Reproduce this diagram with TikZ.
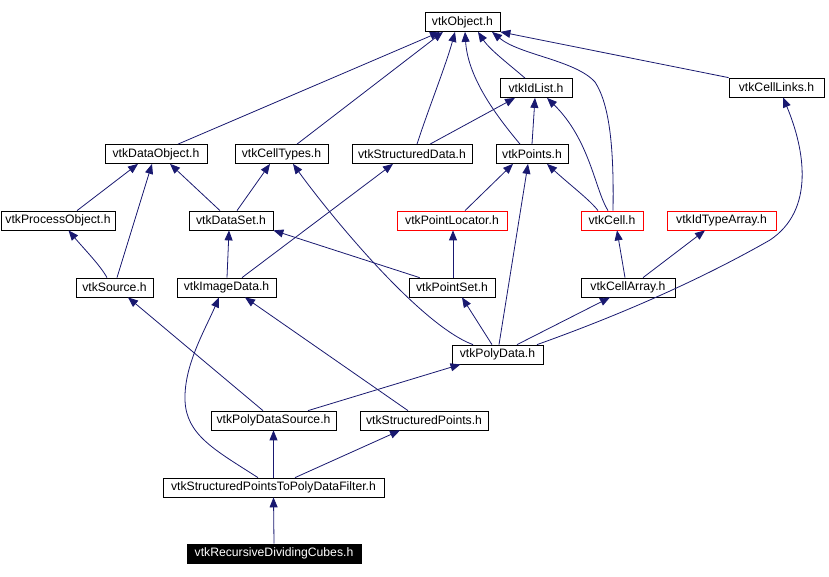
\documentclass[tikz,border=0pt]{standalone}
\usepackage{fontspec}
\setmainfont{Liberation Sans}
\usetikzlibrary{calc,arrows.meta}
\definecolor{edgec}{RGB}{25,25,112}
\begin{document}
\begin{tikzpicture}[x=1pt,y=-1pt,
  cls/.style={draw=black, line width=0.75pt, fill=white, minimum height=19pt, inner sep=0pt, font=\fontsize{12.2}{14}\selectfont},
  redcls/.style={cls, draw=red},
  cur/.style={cls, fill=black, text=white},
  e/.style={draw=edgec, line width=0.8pt, -{Triangle[length=10pt,width=8pt,fill=edgec]}}]
\useasboundingbox (0,0) rectangle (829,576);
\node[cls, minimum width=75pt] (obj) at (462.5,22) {vtkObject.h};
\node[cls, minimum width=72pt] (idlist) at (536,88) {vtkIdList.h};
\node[cls, minimum width=95pt] (celllinks) at (776.5,87.5) {vtkCellLinks.h};
\node[cls, minimum width=102pt] (dataobj) at (156,154) {vtkDataObject.h};
\node[cls, minimum width=93pt] (celltypes) at (281.5,154) {vtkCellTypes.h};
\node[cls, minimum width=120pt] (structdata) at (412,154) {vtkStructuredData.h};
\node[cls, minimum width=72pt] (points) at (532,154) {vtkPoints.h};
\node[cls, minimum width=114pt] (procobj) at (58,220.5) {vtkProcessObject.h};
\node[cls, minimum width=84pt] (dataset) at (231,220.5) {vtkDataSet.h};
\node[redcls, minimum width=110pt] (ptloc) at (452,220.5) {vtkPointLocator.h};
\node[redcls, minimum width=62pt] (cell) at (612,220.5) {vtkCell.h};
\node[redcls, minimum width=109pt] (idtype) at (721.5,220.5) {vtkIdTypeArray.h};
\node[cls, minimum width=77pt] (source) at (114.5,287.5) {vtkSource.h};
\node[cls, minimum width=99pt] (imagedata) at (226.5,287.5) {vtkImageData.h};
\node[cls, minimum width=86pt] (pointset) at (452,287.5) {vtkPointSet.h};
\node[cls, minimum width=94pt] (cellarray) at (628,287.5) {vtkCellArray.h};
\node[cls, minimum width=91pt] (polydata) at (497.5,354.5) {vtkPolyData.h};
\node[cls, minimum width=125pt] (pds) at (273.5,420.5) {vtkPolyDataSource.h};
\node[cls, minimum width=128pt] (sp) at (424,420.5) {vtkStructuredPoints.h};
\node[cls, minimum width=221pt] (sptpdf) at (273.5,487.5) {vtkStructuredPointsToPolyDataFilter.h};
\node[cur, minimum width=174pt] (rdc) at (274,553.5) {vtkRecursiveDividingCubes.h};

\draw[e] ($(dataobj.north)+(22,0)$) -- ($(obj.south)+(-22.5,0)$);
\draw[e] ($(celltypes.north)+(15.5,0)$) -- ($(obj.south)+(-19.5,0)$);
\draw[e] ($(structdata.north)+(5,0)$) .. controls (428,110) and (446,65) .. ($(obj.south)+(-7.5,0)$);
\draw[e] ($(points.north)+(-12,0)$) .. controls (500,120) and (468,80) .. ($(obj.south)+(2.5,0)$);
\draw[e] ($(idlist.north)+(-11,0)$) .. controls (510,65) and (490,50) .. ($(obj.south)+(15.5,0)$);
\draw[e] ($(cell.north)+(1,0)$) .. controls (614,150) and (610,105) .. (595,82) .. controls (575,60) and (520,55) .. ($(obj.south)+(29.5,0)$);
\draw[e] (celllinks.north west) -- (obj.south east);
\draw[e] ($(structdata.north)+(18,0)$) -- ($(idlist.south)+(-21,0)$);
\draw[e] (points.north) -- ($(idlist.south)+(-1,0)$);
\draw[e] ($(cell.north)+(-4,0)$) .. controls (595,190) and (590,140) .. ($(idlist.south)+(11,0)$);
\draw[e] ($(procobj.north)+(19,0)$) -- ($(dataobj.south)+(-18,0)$);
\draw[e] ($(source.north)+(2.5,0)$) -- ($(dataobj.south)+(-4,0)$);
\draw[e] ($(dataset.north)+(-11,0)$) -- ($(dataobj.south)+(14,0)$);
\draw[e] ($(dataset.north)+(6,0)$) -- ($(celltypes.south)+(-11.5,0)$);
\draw[e] ($(imagedata.north)+(15.5,0)$) -- ($(structdata.south)+(-19,0)$);
\draw[e] ($(polydata.north)+(-24.5,0)$) .. controls (420,325) and (330,215) .. ($(celltypes.south)+(11.5,0)$);
\draw[e] ($(pointset.north west)+(11,0)$) -- (dataset.south east);
\draw[e] ($(ptloc.north)+(13,0)$) -- ($(points.south)+(-19,0)$);
\draw[e] ($(polydata.north)+(1.5,0)$) -- ($(points.south)+(-4,0)$);
\draw[e] ($(cell.north)+(-14,0)$) .. controls (590,200) and (570,185) .. ($(points.south)+(15,0)$);
\draw[e] ($(pointset.north)+(1,0)$) -- ($(ptloc.south)+(1,0)$);
\draw[e] ($(cellarray.north)+(-3,0)$) -- ($(cell.south)+(5,0)$);
\draw[e] ($(cellarray.north)+(15,0)$) -- ($(idtype.south)+(-16.5,0)$);
\draw[e] ($(polydata.north)+(39.5,0)$) .. controls (620,315) and (700,280) .. (770,240) .. controls (815,210) and (805,150) .. ($(celllinks.south)+(6.5,0)$);
\draw[e] ($(polydata.north)+(19.5,0)$) -- ($(cellarray.south)+(-18,0)$);
\draw[e] ($(polydata.north)+(-5.5,0)$) -- ($(pointset.south)+(10,0)$);
\draw[e] ($(source.north)+(-7.5,0)$) .. controls (100,265) and (85,250) .. ($(procobj.south)+(10.5,0)$);
\draw[e] ($(imagedata.north)+(0.5,0)$) -- ($(dataset.south)+(-2,0)$);
\draw[e] ($(pds.north)+(-10.5,0)$) -- ($(source.south)+(13.5,0)$);
\draw[e] ($(pds.north)+(34.5,0)$) -- ($(polydata.south)+(-37,0)$);
\draw[e] ($(sp.north)+(-16,0)$) -- ($(imagedata.south)+(18.5,0)$);
\draw[e] ($(sptpdf.north)+(-15.5,0)$) .. controls (215,450) and (186,435) .. (185,400) .. controls (184,365) and (205,330) .. ($(imagedata.south)+(-7.5,0)$);
\draw[e] (sptpdf.north) -- (pds.south);
\draw[e] ($(sptpdf.north)+(21.5,0)$) -- ($(sp.south)+(-24,0)$);
\draw[e] (rdc.north) -- (sptpdf.south);
\end{tikzpicture}
\end{document}
